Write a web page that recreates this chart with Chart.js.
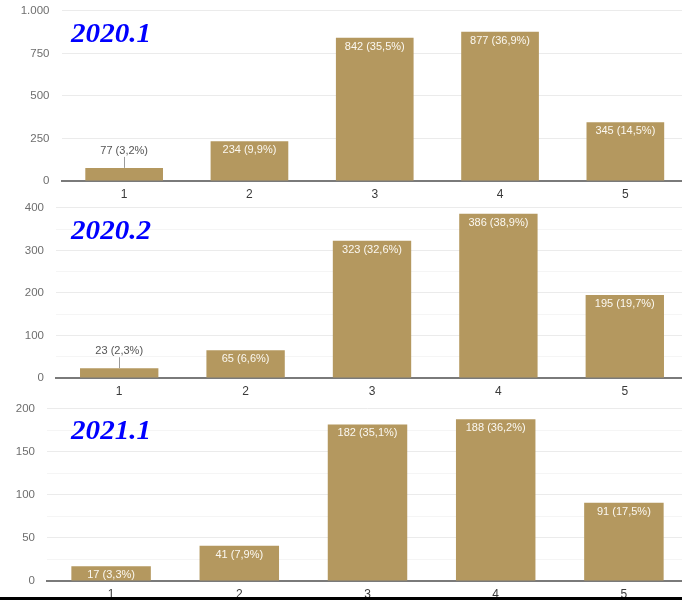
<!DOCTYPE html>
<html>
<head>
<meta charset="utf-8">
<script src="https://cdn.jsdelivr.net/npm/chart.js@4.4.1/dist/chart.umd.min.js"></script>
<style>
  html, body { margin: 0; padding: 0; background: #ffffff; overflow: hidden; }
  #wrap { position: relative; width: 682px; height: 600px; overflow: hidden; background: #fff; }
  canvas { position: absolute; left: 0; }
  .ttl { position: absolute; left: 71px; font-family: "Liberation Serif", "Times New Roman", serif;
         font-weight: bold; font-style: italic; font-size: 27px; line-height: 27px; color: #0000ff;
         white-space: nowrap; transform: scaleX(1.08); transform-origin: left top; }
  #bottomBar { position: absolute; left: 0; top: 597px; width: 682px; height: 3px; background: #000; }
</style>
</head>
<body>
<div id="wrap">
  <canvas id="c1" width="700" height="213" style="top:-8px"></canvas>
  <canvas id="c2" width="700" height="211" style="top:189px"></canvas>
  <canvas id="c3" width="700" height="210" style="top:390px"></canvas>
  <div class="ttl" style="top:20px">2020.1</div>
  <div class="ttl" style="top:217px">2020.2</div>
  <div class="ttl" style="top:417px">2021.1</div>
  <div id="bottomBar"></div>
</div>
<script>
// ---- data ----
const categories = ['1', '2', '3', '4', '5'];

const values2020_1 = [77, 234, 842, 877, 345];
const pcts2020_1   = ['3,2%', '9,9%', '35,5%', '36,9%', '14,5%'];
const ticks2020_1  = [0, 250, 500, 750, 1000];
const tickLabels2020_1 = ['0', '250', '500', '750', '1.000'];

const values2020_2 = [23, 65, 323, 386, 195];
const pcts2020_2   = ['2,3%', '6,6%', '32,6%', '38,9%', '19,7%'];
const ticks2020_2  = [0, 100, 200, 300, 400];
const tickLabels2020_2 = ['0', '100', '200', '300', '400'];

const values2021_1 = [17, 41, 182, 188, 91];
const pcts2021_1   = ['3,3%', '7,9%', '35,1%', '36,2%', '17,5%'];
const ticks2021_1  = [0, 50, 100, 150, 200];
const tickLabels2021_1 = ['0', '50', '100', '150', '200'];

// ---- styling ----
const BAR_COLOR = '#b4985f';
const FONT = '"Liberation Sans", Arial, sans-serif';

function barLabelPlugin(pcts) {
  return {
    id: 'barLabels',
    afterDatasetsDraw(chart) {
      const meta = chart.getDatasetMeta(0);
      const data = chart.data.datasets[0].data;
      const ctx = chart.ctx;
      ctx.save();
      ctx.font = '11px ' + FONT;
      ctx.textAlign = 'center';
      ctx.textBaseline = 'middle';
      meta.data.forEach((bar, i) => {
        const text = data[i] + ' (' + pcts[i] + ')';
        const h = bar.base - bar.y;
        if (h >= 14) {
          ctx.fillStyle = '#fbf8f1';
          ctx.fillText(text, bar.x, bar.y + 9);
        } else {
          ctx.strokeStyle = '#9a9a9a';
          ctx.lineWidth = 1;
          ctx.beginPath();
          ctx.moveTo(Math.round(bar.x) + 0.5, bar.y);
          ctx.lineTo(Math.round(bar.x) + 0.5, bar.y - 11);
          ctx.stroke();
          ctx.fillStyle = '#555555';
          ctx.fillText(text, bar.x, bar.y - 17);
        }
      });
      ctx.restore();
    }
  };
}

function makeChart(id, values, pcts, majorTicks, majorLabels, withMinor, lay) {
  const step = majorTicks[1] - majorTicks[0];
  const max = majorTicks[majorTicks.length - 1];
  new Chart(document.getElementById(id), {
    type: 'bar',
    data: {
      labels: categories,
      datasets: [{
        data: values,
        backgroundColor: BAR_COLOR,
        borderWidth: 0,
        barPercentage: 0.62,
        categoryPercentage: 1.0
      }]
    },
    options: {
      responsive: false,
      animation: false,
      events: [],
      layout: { padding: { top: 10, right: 12, left: 0, bottom: 0 } },
      plugins: { legend: { display: false }, tooltip: { enabled: false } },
      scales: {
        x: {
          grid: { display: false, drawTicks: false },
          border: { display: true, color: '#7a7a7a', width: 2 },
          ticks: { color: '#3a3a3a', font: { family: FONT, size: 12 }, padding: lay.xPad },
          afterFit: (s) => { s.height = lay.xHeight; }
        },
        y: {
          min: 0, max: max,
          grid: {
            drawTicks: false,
            color: (c) => {
              const v = c.tick ? c.tick.value : 0;
              return majorTicks.indexOf(v) >= 0 ? '#ebebeb' : '#f5f5f5';
            },
            lineWidth: 1
          },
          border: { display: false },
          ticks: {
            stepSize: withMinor ? step / 2 : step,
            color: '#6e6e6e',
            font: { family: FONT, size: 11.5 },
            padding: lay.yPad,
            callback: (v) => {
              const k = majorTicks.indexOf(v);
              return k >= 0 ? majorLabels[k] : '';
            }
          },
          afterFit: (s) => { s.width = lay.yWidth; }
        }
      }
    },
    plugins: [barLabelPlugin(pcts)]
  });
}

makeChart('c1', values2020_1, pcts2020_1, ticks2020_1, tickLabels2020_1, false,
  { xHeight: 24, yWidth: 61.5, xPad: 6, yPad: 12 });
makeChart('c2', values2020_2, pcts2020_2, ticks2020_2, tickLabels2020_2, true,
  { xHeight: 22, yWidth: 56, xPad: 6, yPad: 12 });
makeChart('c3', values2021_1, pcts2021_1, ticks2021_1, tickLabels2021_1, true,
  { xHeight: 19, yWidth: 47, xPad: 6, yPad: 12 });
</script>
</body>
</html>
